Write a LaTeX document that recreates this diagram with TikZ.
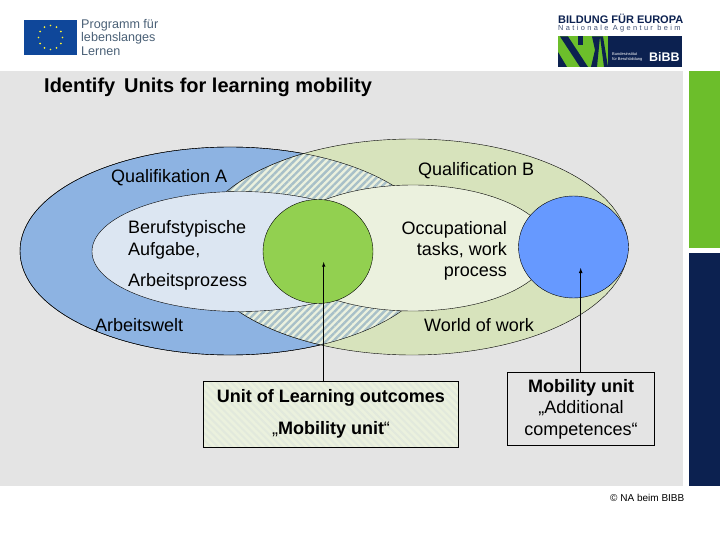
\documentclass[tikz,border=0pt]{standalone}
\usepackage{fontspec}
\setmainfont{Liberation Sans}
\usetikzlibrary{patterns.meta}

\definecolor{slide}{HTML}{E4E4E4}
\definecolor{barGreen}{HTML}{6CBE2B}
\definecolor{barNavy}{HTML}{0C2150}
\definecolor{outerA}{HTML}{8DB3E2}
\definecolor{innerA}{HTML}{DCE6F2}
\definecolor{outerB}{HTML}{D7E3BC}
\definecolor{innerB}{HTML}{EBF1DE}
\definecolor{circGreen}{HTML}{92D050}
\definecolor{circBlue}{HTML}{6699FF}
\definecolor{logoBlue}{HTML}{0F479A}
\definecolor{logoText}{HTML}{4A6076}
\definecolor{stripeA}{HTML}{A8C0C8}
\definecolor{stripeBox}{HTML}{E2E9DC}

\tikzset{
  label/.style={inner sep=0pt, font=\fontsize{18}{21}\selectfont},
  unitbox/.style={draw=black, semithick, align=center, font=\fontsize{18}{21.5}\selectfont},
  hatchA/.style={pattern={Lines[angle=45,distance=5pt,line width=2.4pt]}, pattern color=stripeA},
  hatchBox/.style={pattern={Lines[angle=-45,distance=5pt,line width=2pt]}, pattern color=stripeBox}
}

\begin{document}
\begin{tikzpicture}[x=1pt, y=-1pt, >=latex]
\useasboundingbox (0,0) rectangle (720,540);

% Slide background and bars
\fill[slide] (0,71) rectangle (683,486);
\fill[barGreen] (689,71) rectangle (720,248);
\fill[barNavy] (689,253) rectangle (720,486);

% Left logo
\fill[logoBlue] (24,20) rectangle (77,55);
\foreach \a in {0,30,...,330}
  \fill[yellow!80!white] (50.5,37.5) ++(\a:12) circle (0.9);
\node[anchor=west, inner sep=0pt, text=logoText, align=left, font=\fontsize{12.6}{13.2}\selectfont] (progText) at (81,37.5) {Programm für\\lebenslanges\\Lernen};

% Right logo
\node[anchor=west, inner sep=0pt, text=barNavy, font=\bfseries\fontsize{11}{12}\selectfont] (bildText) at (558,18.5) {BILDUNG FÜR EUROPA};
\node[anchor=west, inner sep=0pt, text=barNavy!80!white, font=\addfontfeature{LetterSpace=32}\fontsize{7.4}{8}\selectfont] (agentText) at (558,29) {Nationale Agentur beim};
\fill[barNavy] (558,36.5) rectangle (682,67);
\fill[barGreen] (558,36.5) rectangle (608,67);
\fill[barNavy] (560,36.5) -- (568,36.5) -- (588,67) -- (580,67) -- cycle;
\fill[barNavy] (578,36.5) rectangle (583,45);
\fill[barNavy] (558,52) -- (567,67) -- (558,67) -- cycle;
\fill[barNavy] (592,36.5) -- (600,36.5) -- (597,67) -- (591,67) -- (595,50) -- cycle;
\fill[barNavy] (600,36.5) -- (603,36.5) -- (608,67) -- (604,67) -- cycle;
\node[anchor=west, inner sep=0pt, text=white, align=left, font=\fontsize{4}{5}\selectfont] (bundText) at (612,57) {Bundesinstitut\\für Berufsbildung};
\node[anchor=west, inner sep=0pt, text=white, font=\bfseries\fontsize{12.5}{14}\selectfont] (bibbText) at (649,57) {BiBB};

% Title
\node[anchor=west, inner sep=0pt, font=\bfseries\fontsize{20}{24}\selectfont] (title) at (44,87.5) {Identify\, Units for learning mobility};

% Outer ellipses
\filldraw[fill=outerA, draw=black, thin] (230,251) ellipse [x radius=210, y radius=104];
\filldraw[fill=outerB, draw=black, thin] (412,247) ellipse [x radius=216, y radius=108];

% Overlap of the outer ellipses
\begin{scope}
  \clip (230,251) ellipse [x radius=210, y radius=104];
  \fill[innerB] (412,247) ellipse [x radius=216, y radius=108];
  \fill[hatchA] (412,247) ellipse [x radius=216, y radius=108];
  \draw[thin] (412,247) ellipse [x radius=216, y radius=108];
\end{scope}
\draw[thin] (230,251) ellipse [x radius=210, y radius=104];

% Inner ellipses
\filldraw[fill=innerA, draw=black, thin] (240,251.5) ellipse [x radius=148, y radius=60];
\filldraw[fill=innerB, draw=black, thin] (413,248) ellipse [x radius=137, y radius=63];

% Circles
\filldraw[fill=circGreen, draw=black, thin] (318,251.5) ellipse [x radius=55, y radius=52];
\filldraw[fill=circBlue, draw=black, thin] (573.5,247) ellipse [x radius=55, y radius=51];

% Labels in the ellipses
\node[label, anchor=west] (qualA) at (111,178) {Qualifikation A};
\node[label, anchor=west] (taskA) at (128,228.5) {Berufstypische};
\node[label, anchor=west] (aufgA) at (128,250.5) {Aufgabe,};
\node[label, anchor=west] (procA) at (128,282) {Arbeitsprozess};
\node[label, anchor=west] (weltA) at (95,325) {Arbeitswelt};
\node[label, anchor=west] (qualB) at (418,171) {Qualification B};
\node[label, anchor=east, align=right] (taskB) at (507,250.5) {Occupational\\tasks, work\\process};
\node[label, anchor=west] (worldB) at (424,325) {World of work};

% Boxes
\node[unitbox, preaction={fill=innerB}, hatchBox, minimum width=255.5pt, minimum height=65.5pt] (unitBox) at (331,414.5) {};
\node[inner sep=0pt, font=\bfseries\fontsize{18}{21}\selectfont] (unitTop) at (331,398) {Unit of Learning outcomes};
\node[inner sep=0pt, font=\fontsize{18}{21}\selectfont] (unitLow) at (331,430) {,,\textbf{Mobility unit}``};
\node[unitbox, fill=slide, minimum width=147.5pt, minimum height=73pt, inner sep=0pt] (mobBox) at (581,409) {\textbf{Mobility unit}\\„Additional\\competences“};

% Arrows
\coordinate (tipGreen) at (323.7,262);
\coordinate (tipBlue) at (580.7,268);
\draw[->, semithick] (unitBox.north -| tipGreen) -- (tipGreen);
\draw[->, thick] (mobBox.north -| tipBlue) -- (tipBlue);

% Footer
\node[anchor=east, inner sep=0pt, font=\fontsize{10}{12}\selectfont] (copyText) at (684.5,498) {© NA beim BIBB};

\end{tikzpicture}
\end{document}
